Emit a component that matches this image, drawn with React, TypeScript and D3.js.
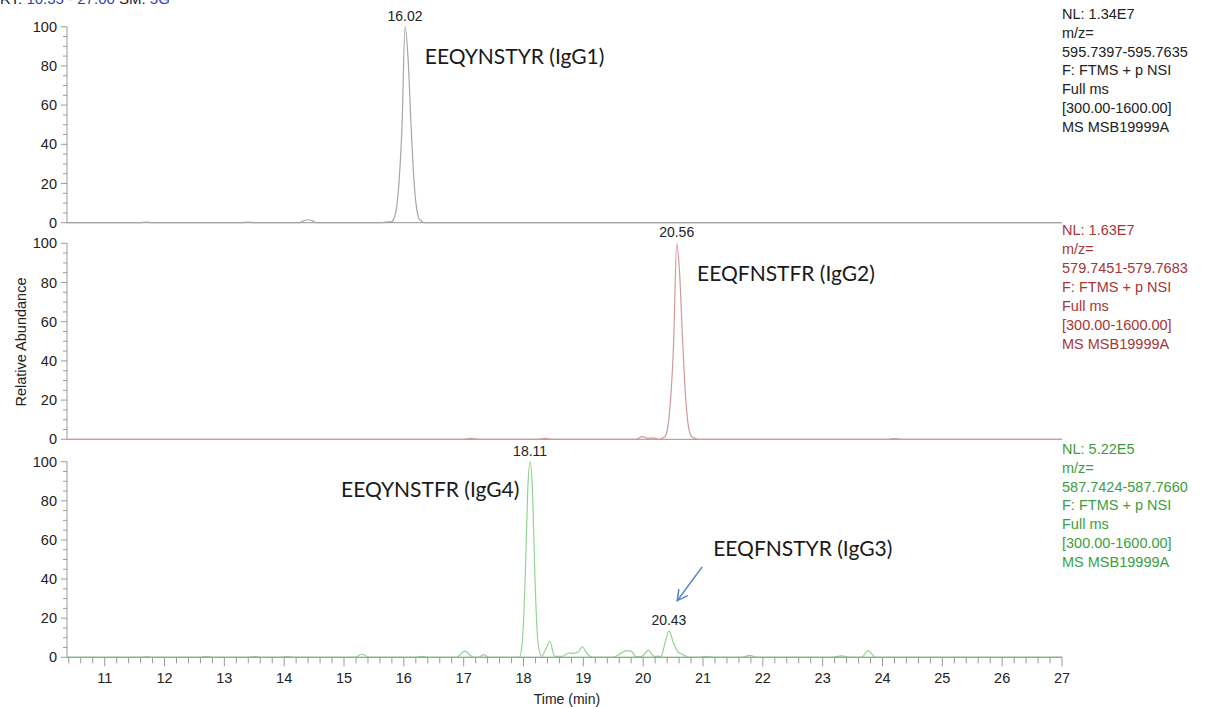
import React from 'react';
import * as d3 from 'd3';

const W = 1206;
const H = 707;

// Retention time range (min)
const RT_RANGE = [10.37, 27.0];
const X_TICK_VALUES = [11, 12, 13, 14, 15, 16, 17, 18, 19, 20, 21, 22, 23, 24, 25, 26, 27];
const X_TICK_LABELS = ['11', '12', '13', '14', '15', '16', '17', '18', '19', '20', '21', '22', '23', '24', '25', '26', '27'];
const Y_TICK_VALUES = [0, 20, 40, 60, 80, 100];
const Y_TICK_LABELS = ['0', '20', '40', '60', '80', '100'];

// Panel 1: IgG1 trace (EEQYNSTYR)
const TIME_1 = [10.37, 11.6, 11.7, 11.8, 13.3, 13.4, 13.5, 14.25, 14.33, 14.4, 14.47, 14.55, 15.6, 15.72, 15.8, 15.82, 15.87, 15.92, 15.97, 16.02, 16.07, 16.12, 16.17, 16.22, 16.27, 16.35, 27.0];
const VALUE_1 = [0, 0, 0.3, 0, 0, 0.3, 0, 0, 1.0, 1.5, 0.9, 0, 0, 0.4, 0.5, 1.3, 6, 21, 50, 100, 84, 50, 21, 6, 1.3, 0, 0];

// Panel 2: IgG2 trace (EEQFNSTFR)
const TIME_2 = [10.37, 17.0, 17.13, 17.25, 18.25, 18.36, 18.47, 19.88, 19.98, 20.08, 20.17, 20.26, 20.36, 20.41, 20.46, 20.51, 20.56, 20.61, 20.66, 20.71, 20.76, 20.82, 20.89, 20.96, 24.1, 24.2, 24.3, 27.0];
const VALUE_2 = [0, 0, 0.5, 0, 0, 0.5, 0, 0, 1.4, 0.5, 0.7, 0, 1.3, 6, 21, 50, 100, 84, 50, 21, 6, 1.0, 0.3, 0, 0, 0.4, 0, 0];

// Panel 3: IgG4 (EEQYNSTFR) and IgG3 (EEQFNSTYR) trace
const TIME_3 = [10.37, 11.6, 11.7, 11.8, 12.6, 12.7, 12.8, 13.4, 13.5, 13.6, 13.95, 14.05, 14.15, 15.18, 15.3, 15.42, 16.2, 16.3, 16.4, 16.88, 17.02, 17.16, 17.25, 17.33, 17.42, 17.93, 17.98, 18.03, 18.07, 18.11, 18.15, 18.19, 18.24, 18.3, 18.37, 18.44, 18.52, 18.65, 18.75, 18.83, 18.92, 18.98, 19.06, 19.15, 19.5, 19.65, 19.72, 19.8, 19.88, 19.98, 20.09, 20.18, 20.3, 20.37, 20.43, 20.5, 20.58, 20.66, 20.76, 20.95, 21.06, 21.17, 21.65, 21.78, 21.9, 23.15, 23.32, 23.45, 23.65, 23.76, 23.88, 27.0];
const VALUE_3 = [0, 0, 0.3, 0, 0, 0.4, 0, 0, 0.4, 0, 0, 0.4, 0, 0, 1.7, 0, 0, 0.5, 0, 0, 3.2, 0, 0, 1.4, 0, 0, 8, 42, 85, 100, 85, 42, 8, 0.5, 4, 8.2, 0.5, 0.5, 2.2, 2.0, 2.8, 5.4, 2.0, 0, 0, 2.5, 3.4, 3.2, 0.3, 0.5, 3.7, 0.5, 0.5, 8, 13.5, 8, 2.8, 1.5, 0, 0, 0.5, 0, 0, 1.0, 0, 0, 0.7, 0, 0, 3.4, 0, 0];

const PANEL_TIMES = [TIME_1, TIME_2, TIME_3];
const PANEL_VALUES = [VALUE_1, VALUE_2, VALUE_3];
const TRACE_COLORS = ['#a6a6a6', '#cf9a9a', '#93d493'];
const INFO_COLORS = ['#222222', '#a83636', '#3d9e3d'];
const BASE_COLORS = ['#a8a8a8', '#c99a9a', '#8fcf8f'];

const INFO_1 = ['NL: 1.34E7', 'm/z=', '595.7397-595.7635', 'F: FTMS + p NSI', 'Full ms', '[300.00-1600.00]', 'MS MSB19999A'];
const INFO_2 = ['NL: 1.63E7', 'm/z=', '579.7451-579.7683', 'F: FTMS + p NSI', 'Full ms', '[300.00-1600.00]', 'MS MSB19999A'];
const INFO_3 = ['NL: 5.22E5', 'm/z=', '587.7424-587.7660', 'F: FTMS + p NSI', 'Full ms', '[300.00-1600.00]', 'MS MSB19999A'];
const PANEL_INFO = [INFO_1, INFO_2, INFO_3];

// Peak apex labels
const PEAK_PANEL = [0, 1, 2, 2];
const PEAK_TIME = [16.02, 20.56, 18.11, 20.43];
const PEAK_VALUE = [100, 100, 100, 13.5];
const PEAK_LABEL = ['16.02', '20.56', '18.11', '20.43'];

// Peptide annotations
const ANNOT_PANEL = [0, 1, 2, 2];
const ANNOT_TIME = [16.35, 20.9, 14.95, 21.17];
const ANNOT_VALUE = [81, 81, 82, 52];
const ANNOT_TEXT = ['EEQYNSTYR (IgG1)', 'EEQFNSTFR (IgG2)', 'EEQYNSTFR (IgG4)', 'EEQFNSTYR (IgG3)'];

// Arrow pointing at IgG3 peak (panel 3): from -> to
const ARROW_FROM = [20.98, 46];
const ARROW_TO = [20.57, 29];

const PLOT_LEFT = 67;
const PLOT_RIGHT = 1062;
const PANEL_TOP = [26.7, 243.3, 461.7];
const PANEL_BOTTOM = [222.7, 439.3, 657.3];

const SANS = '"Liberation Sans", Arial, Helvetica, sans-serif';
const ANNOT_FONT = 'Lato, "Open Sans", sans-serif';

export default function App() {
  const x = d3.scaleLinear().domain(RT_RANGE).range([PLOT_LEFT, PLOT_RIGHT]);
  const yScales = PANEL_TOP.map((t, i) => d3.scaleLinear().domain([0, 100]).range([PANEL_BOTTOM[i], t]));
  const minorX = d3.range(10.4, 27.001, 0.2).filter((v) => Math.abs(v - Math.round(v)) > 0.01);
  const minorY = d3.range(0, 100.001, 5).filter((v) => v % 20 !== 0);
  const axisColor = '#9a9a9a';
  const xAxisY = PANEL_BOTTOM[2];

  return (
    <svg width={W} height={H} style={{ position: 'absolute', left: 0, top: 0, background: '#fff' }}>
      <rect x={0} y={0} width={W} height={H} fill="#fff" />
      {/* header (cut off at top, as in the source) */}
      <text x={0} y={4} fontFamily={SANS} fontSize={15} fill="#222">
        RT: <tspan fill="#3b3bb5">10.35 - 27.00</tspan> SM: <tspan fill="#3b3bb5">5G</tspan>
      </text>

      {PANEL_TOP.map((top, i) => {
        const y = yScales[i];
        const line = d3
          .line<number>()
          .x((_, j) => x(PANEL_TIMES[i][j]))
          .y((v) => y(v))
          .curve(d3.curveMonotoneX);
        return (
          <g key={i}>
            <line x1={PLOT_LEFT} x2={PLOT_LEFT} y1={y(100)} y2={y(0)} stroke={axisColor} strokeWidth={1} />
            {Y_TICK_VALUES.map((v, k) => (
              <g key={v}>
                <line x1={PLOT_LEFT - 6} x2={PLOT_LEFT} y1={y(v)} y2={y(v)} stroke={axisColor} strokeWidth={1} />
                <text x={PLOT_LEFT - 10} y={y(v)} dy="0.35em" textAnchor="end" fontFamily={SANS} fontSize={14.5} fill="#222">
                  {Y_TICK_LABELS[k]}
                </text>
              </g>
            ))}
            {minorY.map((v) => (
              <line key={v} x1={PLOT_LEFT - 4} x2={PLOT_LEFT} y1={y(v)} y2={y(v)} stroke={axisColor} strokeWidth={1} />
            ))}
            <line x1={PLOT_LEFT} x2={PLOT_RIGHT} y1={y(0)} y2={y(0)} stroke={BASE_COLORS[i]} strokeWidth={1.2} />
            <path d={line(PANEL_VALUES[i]) || ''} fill="none" stroke={TRACE_COLORS[i]} strokeWidth={1.2} />
            <text x={PLOT_RIGHT} y={top - 8} fontFamily={SANS} fontSize={14.5} fill={INFO_COLORS[i]}>
              {PANEL_INFO[i].map((s, k) => (
                <tspan key={k} x={PLOT_RIGHT} dy={k === 0 ? 0 : 18.9}>
                  {s}
                </tspan>
              ))}
            </text>
          </g>
        );
      })}

      <line x1={PLOT_LEFT} x2={PLOT_RIGHT} y1={xAxisY} y2={xAxisY} stroke={axisColor} strokeWidth={1} />
      {minorX.map((v) => (
        <line key={v} x1={x(v)} x2={x(v)} y1={xAxisY} y2={xAxisY + 6} stroke={axisColor} strokeWidth={1} />
      ))}
      {X_TICK_VALUES.map((v, k) => (
        <g key={v}>
          <line x1={x(v)} x2={x(v)} y1={xAxisY} y2={xAxisY + 9} stroke={axisColor} strokeWidth={1} />
          <text x={x(v)} y={xAxisY + 21} dy="0.35em" textAnchor="middle" fontFamily={SANS} fontSize={14.5} fill="#222">
            {X_TICK_LABELS[k]}
          </text>
        </g>
      ))}
      <text x={567} y={699} dy="0.35em" textAnchor="middle" fontFamily={SANS} fontSize={14} fill="#222">
        Time (min)
      </text>
      <text
        transform={`translate(21,${(PANEL_TOP[0] + PANEL_BOTTOM[2]) / 2}) rotate(-90)`}
        dy="0.35em"
        textAnchor="middle"
        fontFamily={SANS}
        fontSize={14.5}
        fill="#222"
      >
        Relative Abundance
      </text>

      {PEAK_LABEL.map((lab, k) => (
        <text
          key={k}
          x={x(PEAK_TIME[k])}
          y={yScales[PEAK_PANEL[k]](PEAK_VALUE[k]) - 6}
          textAnchor="middle"
          fontFamily={SANS}
          fontSize={14}
          fill="#222"
        >
          {lab}
        </text>
      ))}

      {ANNOT_TEXT.map((t, k) => (
        <text
          key={k}
          x={x(ANNOT_TIME[k])}
          y={yScales[ANNOT_PANEL[k]](ANNOT_VALUE[k])}
          fontFamily={ANNOT_FONT}
          fontSize={21}
          fill="#1a1a1a"
        >
          {t}
        </text>
      ))}

      {(() => {
        const y = yScales[2];
        const x1 = x(ARROW_FROM[0]);
        const y1 = y(ARROW_FROM[1]);
        const x2 = x(ARROW_TO[0]);
        const y2 = y(ARROW_TO[1]);
        const ang = Math.atan2(y2 - y1, x2 - x1);
        const len = 11;
        const spread = 0.5;
        const ax1 = x2 - len * Math.cos(ang - spread);
        const ay1 = y2 - len * Math.sin(ang - spread);
        const ax2 = x2 - len * Math.cos(ang + spread);
        const ay2 = y2 - len * Math.sin(ang + spread);
        return (
          <g stroke="#4f7fca" strokeWidth={1.5} fill="none" strokeLinecap="round">
            <line x1={x1} y1={y1} x2={x2} y2={y2} />
            <polyline points={`${ax1},${ay1} ${x2},${y2} ${ax2},${ay2}`} />
          </g>
        );
      })()}
    </svg>
  );
}
